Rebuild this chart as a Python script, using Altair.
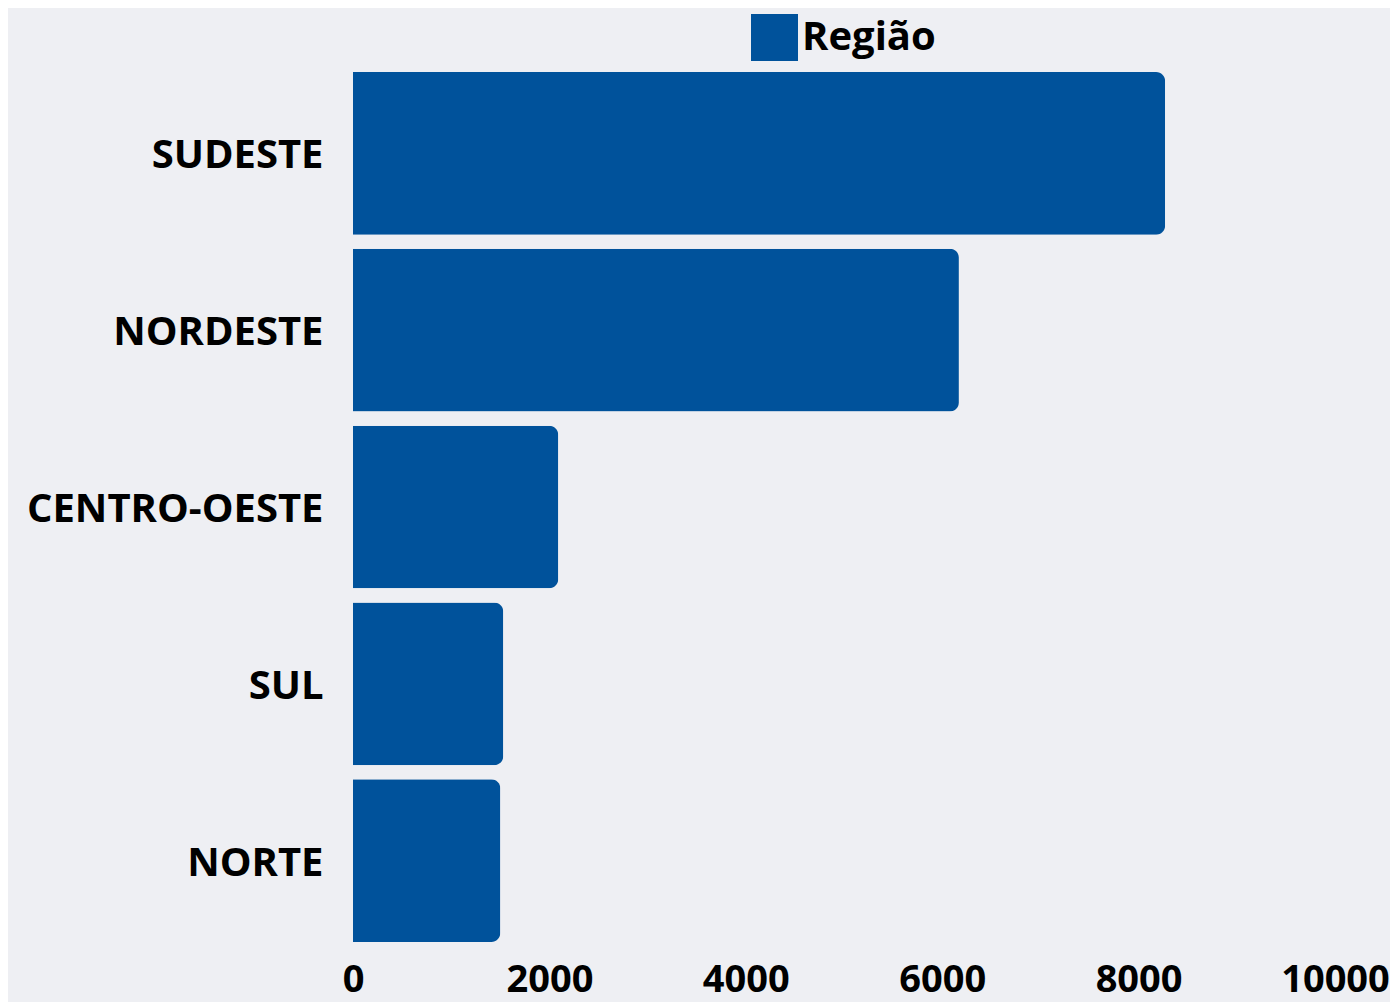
import altair as alt
import pandas as pd

regioes = ["SUDESTE", "NORDESTE", "CENTRO-OESTE", "SUL", "NORTE"]
valores = [8270, 6170, 2090, 1530, 1500]
serie = "Região"
x_ticks = [0, 2000, 4000, 6000, 8000, 10000]

df = pd.DataFrame({"regiao": regioes, "valor": valores, "serie": [serie] * len(regioes)})

FONT = "Open Sans"
BLUE = "#00529b"
BG = "#eeeff3"

bars = alt.Chart(df).mark_bar(cornerRadiusEnd=9, color=BLUE).encode(
    y=alt.Y(
        "regiao:N",
        sort=regioes,
        title=None,
        scale=alt.Scale(paddingInner=0.08, paddingOuter=0.04),
        axis=alt.Axis(
            domain=False, ticks=False, grid=False, labelPadding=30,
            labelOffset=3,
            labelFont=FONT, labelFontSize=40, labelFontWeight="bold",
            labelColor="#000000", labelLimit=400,
        ),
    ),
    x=alt.X(
        "valor:Q",
        title=None,
        scale=alt.Scale(domain=[0, 10000], nice=False),
        axis=alt.Axis(
            values=x_ticks, format="d", domain=False, ticks=False, grid=False,
            labelPadding=12, labelFlush=False, labelFont=FONT,
            labelFontSize=38, labelFontWeight="bold", labelColor="#000000",
        ),
    ),
    color=alt.Color(
        "serie:N",
        scale=alt.Scale(range=[BLUE]),
        legend=alt.Legend(
            title=None, orient="none", legendX=398, legendY=-51,
            symbolType="square", symbolSize=2209, symbolStrokeWidth=0,
            symbolOpacity=1, labelFont=FONT, labelFontSize=40,
            labelFontWeight="bold", labelColor="#000000", labelOffset=4,
        ),
    ),
)

chart = bars.properties(
    width=982, height=884,
    autosize=alt.AutoSizeParams(type="none"),
    padding={"left": 345, "top": 57, "right": 55, "bottom": 58},
    background=BG,
).configure_view(stroke=None)

chart.save("out.html", embed_options={"renderer": "svg", "actions": False})
